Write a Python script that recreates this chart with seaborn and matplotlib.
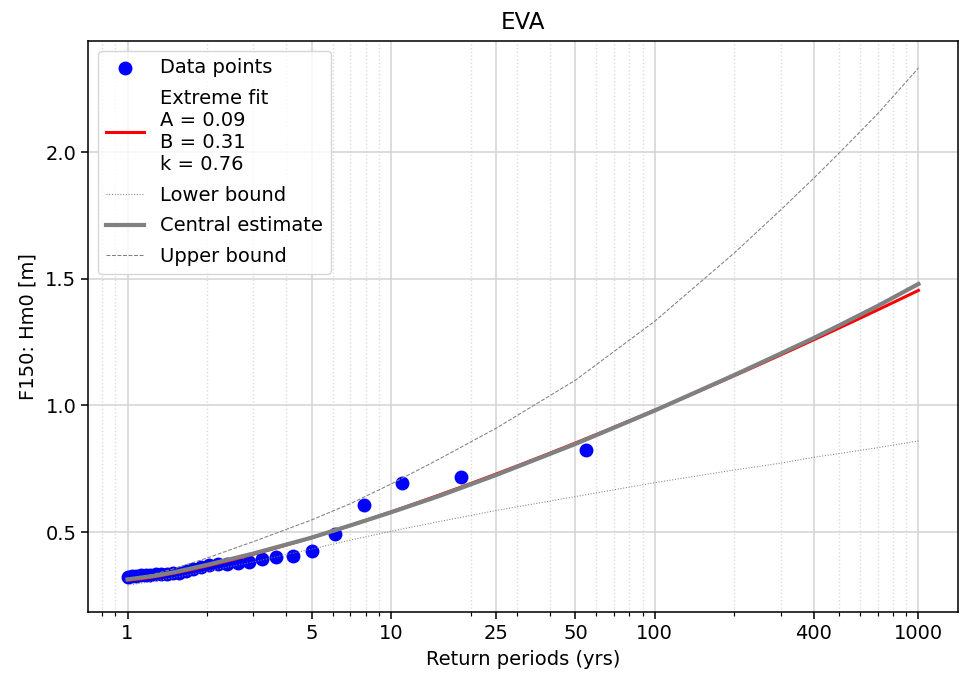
import numpy as np
import pandas as pd
import matplotlib
matplotlib.use("Agg")
import matplotlib.pyplot as plt
from matplotlib.ticker import FixedLocator, FixedFormatter, NullFormatter, LogLocator
import seaborn as sns

# Observed sample: return period (yrs) and Hm0 (m)
return_period = [55.0, 18.33, 11.0, 7.86, 6.11, 5.0, 4.23, 3.67, 3.24, 2.89,
                 2.62, 2.39, 2.2, 2.04, 1.9, 1.77, 1.67, 1.57, 1.49, 1.41,
                 1.34, 1.28, 1.22, 1.17, 1.12, 1.08, 1.04, 1.0]
hm0 = [0.826, 0.717, 0.692, 0.607, 0.494, 0.424, 0.407, 0.400, 0.392, 0.382,
       0.377, 0.374, 0.372, 0.369, 0.360, 0.353, 0.347, 0.340, 0.337, 0.335,
       0.334, 0.333, 0.332, 0.331, 0.330, 0.328, 0.325, 0.322]

# Fitted distribution parameters
A = 0.09
B = 0.31
k = 0.76

# Confidence band and central estimate at selected return periods
band_period = [1, 1.25, 1.5, 2, 3, 5, 7, 10, 15, 25, 50, 100, 200, 300, 400, 500, 700, 1000]
lower_bound = [0.290, 0.305, 0.320, 0.345, 0.382, 0.433, 0.468, 0.503, 0.540, 0.585,
               0.640, 0.695, 0.745, 0.772, 0.795, 0.810, 0.833, 0.860]
central = [0.313, 0.326, 0.341, 0.370, 0.415, 0.478, 0.526, 0.578, 0.640, 0.725,
           0.848, 0.980, 1.120, 1.205, 1.266, 1.316, 1.393, 1.480]
upper_bound = [0.312, 0.333, 0.355, 0.397, 0.462, 0.548, 0.612, 0.690, 0.785, 0.910,
               1.100, 1.333, 1.602, 1.772, 1.897, 1.997, 2.152, 2.333]

xticks = [1, 5, 10, 25, 50, 100, 400, 1000]
xticklabels = ["1", "5", "10", "25", "50", "100", "400", "1000"]
yticks = [0.5, 1.0, 1.5, 2.0]

S = 1.4  # scale of the default matplotlib sizes

fig = plt.figure(figsize=(9.65, 6.73), dpi=100)
ax = fig.add_axes([88 / 965, 61 / 673, 870 / 965, 571 / 673])
ax.set_xscale("log")

# Fitted curve from the stated parameters
t_fit = np.logspace(0, 3, 400)
y_fit = B + A * np.log(t_fit) ** (1.0 / k)

points = pd.DataFrame({"T": return_period, "Hm0": hm0})
band = pd.DataFrame({"T": band_period, "lower": lower_bound,
                     "central": central, "upper": upper_bound})
fit = pd.DataFrame({"T": t_fit, "Hm0": y_fit})

sns.scatterplot(data=points, x="T", y="Hm0", ax=ax, color="blue", s=100,
                linewidth=0, zorder=2, legend=False)
sns.lineplot(data=fit, x="T", y="Hm0", ax=ax, color="red", lw=2.2,
             estimator=None, sort=True, zorder=3, legend=False)
sns.lineplot(data=band, x="T", y="lower", ax=ax, color="gray", lw=0.75,
             linestyle=":", estimator=None, zorder=3, legend=False)
sns.lineplot(data=band, x="T", y="central", ax=ax, color="gray", lw=3.0,
             estimator=None, zorder=3, legend=False)
sns.lineplot(data=band, x="T", y="upper", ax=ax, color="gray", lw=0.75,
             linestyle="--", estimator=None, zorder=3, legend=False)

ax.set_xlim(0.708, 1413)
ax.set_ylim(0.184, 2.44)

ax.xaxis.set_major_locator(FixedLocator(xticks))
ax.xaxis.set_major_formatter(FixedFormatter(xticklabels))
ax.xaxis.set_minor_locator(LogLocator(base=10, subs=np.arange(2, 10)))
ax.xaxis.set_minor_formatter(NullFormatter())
ax.set_yticks(yticks)
ax.set_yticklabels([f"{v:.1f}" for v in yticks])

ax.grid(True, which="major", color="#d3d3d3", lw=1.1)
ax.grid(True, which="minor", axis="x", color="#dcdcdc", lw=1.0, linestyle=":")
ax.set_axisbelow(True)

ax.tick_params(which="major", labelsize=10 * S, length=3.5 * S, width=0.8 * S)
ax.tick_params(which="minor", length=2 * S, width=0.6 * S)
for sp in ax.spines.values():
    sp.set_linewidth(0.8 * S)
    sp.set_color("black")

ax.set_title("EVA", fontsize=11.8 * S, pad=6 * S)
ax.set_xlabel("Return periods (yrs)", fontsize=10 * S, labelpad=4 * S)
ax.set_ylabel("F150: Hm0 [m]", fontsize=10 * S, labelpad=4 * S)

lines = ax.get_lines()
handles = [ax.collections[0], lines[0], lines[1], lines[2], lines[3]]
labels = ["Data points",
          f"Extreme fit\nA = {A:.2f}\nB = {B:.2f}\nk = {k:.2f}",
          "Lower bound", "Central estimate", "Upper bound"]
ax.legend(handles, labels, loc="upper left", fontsize=10 * S, framealpha=0.8,
          edgecolor="0.8", labelspacing=0.6)

fig.savefig("out.png", dpi=100)
